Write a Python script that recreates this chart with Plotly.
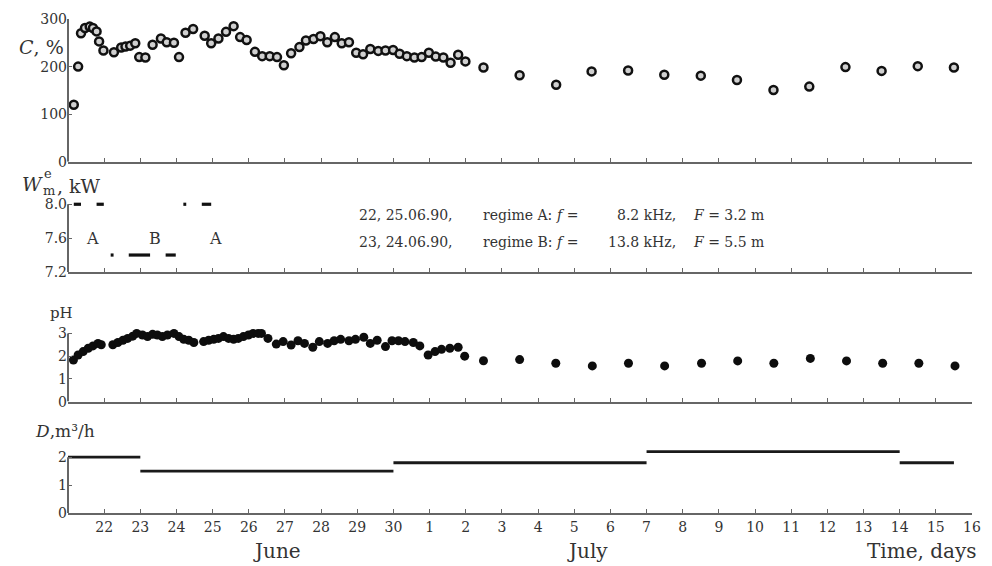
import plotly.graph_objects as go

# ---------------- data (x = days since 21 June 1990) ----------------
C_day = [0.16, 0.28, 0.36, 0.47, 0.60, 0.69, 0.79, 0.86, 0.98,
         1.27, 1.47, 1.59, 1.72, 1.86, 1.97,
         2.14, 2.34, 2.57, 2.73, 2.93,
         3.07, 3.25, 3.46, 3.78, 3.96,
         4.16, 4.37, 4.58, 4.76, 4.94,
         5.17, 5.37, 5.58, 5.78, 5.97,
         6.17, 6.40, 6.58, 6.79, 6.98,
         7.17, 7.38, 7.57, 7.77, 7.97,
         8.16, 8.36, 8.58, 8.78, 8.99,
         9.17, 9.37, 9.58, 9.78, 9.98,
         10.17, 10.38, 10.58, 10.79, 10.99,
         11.49, 12.49, 13.5, 14.48, 15.49, 16.49, 17.5, 18.5, 19.51,
         20.5, 21.5, 22.5, 23.5, 24.5]
C_val = [120, 200, 270, 281, 284, 281, 274, 253, 234,
         230, 240, 242, 244, 249, 220,
         219, 246, 259, 251, 250,
         220, 271, 279, 265, 249,
         259, 273, 285, 262, 256,
         231, 222, 222, 220, 203,
         228, 241, 255, 258, 264,
         251, 262, 249, 251, 229,
         226, 237, 233, 234, 235,
         227, 222, 219, 220, 229,
         221, 219, 208, 225, 211,
         198, 182, 162, 190, 192, 183, 181, 172, 151,
         158, 199, 191, 201, 198]

W_start = [0.16, 0.79, 3.19, 3.70, 1.18, 1.68, 2.70]
W_end   = [0.36, 0.99, 3.27, 3.96, 1.26, 2.27, 2.98]
W_val   = [8.0, 8.0, 8.0, 8.0, 7.4, 7.4, 7.4]

pH_day = [0.15, 0.28, 0.42, 0.56, 0.69, 0.83, 0.92,
          1.24, 1.38, 1.52, 1.65, 1.79, 1.90, 2.06, 2.20, 2.34, 2.47, 2.61,
          2.75, 2.93, 3.07, 3.20, 3.34, 3.48,
          3.75, 3.89, 4.03, 4.16, 4.30, 4.44, 4.58, 4.71, 4.85, 4.99, 5.12, 5.26,
          5.35, 5.53, 5.76, 5.95, 6.17, 6.36, 6.54, 6.77, 6.95,
          7.18, 7.36, 7.54, 7.77, 7.95, 8.18, 8.36, 8.55, 8.78, 8.96,
          9.14, 9.32, 9.55, 9.73, 9.96, 10.15, 10.33, 10.56, 10.79, 10.97,
          11.49, 12.49, 13.49, 14.5, 15.5, 16.5, 17.52, 18.52, 19.52, 20.53,
          21.53, 22.53, 23.53, 24.53]
pH_val = [1.83, 2.05, 2.2, 2.35, 2.45, 2.56, 2.5,
          2.5, 2.6, 2.7, 2.78, 2.88, 3.0, 2.93, 2.86, 2.96, 2.93, 2.86,
          2.93, 3.0, 2.86, 2.74, 2.7, 2.6,
          2.64, 2.7, 2.74, 2.78, 2.86, 2.78, 2.74, 2.78, 2.86, 2.93, 3.0, 3.0,
          3.0, 2.78, 2.53, 2.64, 2.49, 2.68, 2.56, 2.39, 2.64,
          2.56, 2.68, 2.74, 2.68, 2.74, 2.83, 2.56, 2.7, 2.42, 2.68,
          2.68, 2.64, 2.6, 2.45, 2.05, 2.2, 2.3, 2.35, 2.39, 2.0,
          1.8, 1.85, 1.69, 1.57, 1.69, 1.57, 1.69, 1.79, 1.69, 1.9,
          1.79, 1.69, 1.69, 1.57]

D_start = [0, 2, 9, 16, 23]
D_end   = [2, 9, 16, 23, 24.5]
D_val   = [2.0, 1.5, 1.8, 2.2, 1.8]

x_tick_pos = [1, 2, 3, 4, 5, 6, 7, 8, 9, 10, 11, 12, 13, 14, 15, 16, 17,
              18, 19, 20, 21, 22, 23, 24, 25]
x_tick_lab = ["22", "23", "24", "25", "26", "27", "28", "29", "30",
              "1", "2", "3", "4", "5", "6", "7", "8", "9", "10", "11",
              "12", "13", "14", "15", "16"]

C_ticks = [0, 100, 200, 300]
W_ticks = [7.2, 7.6, 8.0]
W_tick_lab = ["7.2", "7.6", "8.0"]
pH_ticks = [0, 1, 2, 3]
D_ticks = [0, 1, 2]

# ---------------- layout geometry ----------------
FW, FH = 992, 566
L, R, T, B = 68, 11, 15, 53
PW, PH = FW - L - R, FH - T - B
FONT = "DejaVu Serif"
AX = "#666"
TXT = "#333"


def dom(top_px, bot_px):
    return [(FH - B - bot_px) / PH, (FH - B - top_px) / PH]


def pxx(px):
    return (px - L) / PW


def pxy(py):
    return (FH - B - py) / PH


def segs(starts, ends, vals):
    xs, ys = [], []
    for a, b, v in zip(starts, ends, vals):
        xs += [a, b, None]
        ys += [v, v, None]
    return xs, ys


fig = go.Figure()

fig.add_trace(go.Scatter(
    x=C_day, y=C_val, mode="markers", xaxis="x", yaxis="y", cliponaxis=False,
    marker=dict(symbol="circle", size=8, color="#d0d0d0",
                line=dict(color="#111", width=2.5))))

wx, wy = segs(W_start, W_end, W_val)
fig.add_trace(go.Scatter(x=wx, y=wy, mode="lines", xaxis="x2", yaxis="y2",
                         line=dict(color="#111", width=3.2)))

fig.add_trace(go.Scatter(
    x=pH_day, y=pH_val, mode="markers", xaxis="x3", yaxis="y3", cliponaxis=False,
    marker=dict(symbol="circle", size=9, color="#0d0d0d",
                line=dict(width=0))))

dx, dy = segs(D_start, D_end, D_val)
fig.add_trace(go.Scatter(x=dx, y=dy, mode="lines", xaxis="x4", yaxis="y4",
                         line=dict(color="#1a1a1a", width=2.8)))

tickfont = dict(family=FONT, size=14, color=TXT)
panels = [  # (y-range, y-domain px, ticks, ticklabels, axis line top, bottom)
    ([0, 300], (15, 159), C_ticks, [str(v) for v in C_ticks], 300, 0),
    ([7.2, 8.05], (197.5, 270), W_ticks, W_tick_lab, 8.0, 7.2),
    ([0, 3.1], (329.7, 400.7), pH_ticks, [str(v) for v in pH_ticks], 3, 0),
    ([0, 2.3], (448.3, 513), D_ticks, [str(v) for v in D_ticks], 2, 0),
]

shapes = []
for i, (yr, dpx, tv, tt, ytop, ybot) in enumerate(panels):
    n = "" if i == 0 else str(i + 1)
    fig.layout["xaxis" + n] = dict(
        domain=[0, 1], anchor="y" + n, range=[0, 25],
        showline=True, linecolor=AX, linewidth=2,
        ticks="inside", ticklen=4, tickwidth=1.3, tickcolor=AX,
        tickvals=x_tick_pos, ticktext=x_tick_lab,
        showticklabels=(i == 3), tickfont=dict(family=FONT, size=14, color=TXT),
        showgrid=False, zeroline=False)
    fig.layout["yaxis" + n] = dict(
        domain=dom(*dpx), anchor="x" + n, range=yr,
        showline=False, ticks="inside", ticklen=4, tickwidth=1.3, tickcolor=AX,
        tickvals=tv, ticktext=tt, tickfont=tickfont,
        showgrid=False, zeroline=False)
    shapes.append(dict(type="line", xref="x" + n + " domain", yref="y" + n,
                       x0=0, x1=0, y0=ybot, y1=ytop,
                       line=dict(color=AX, width=2)))

ann = []


def A(text, x, y, size, xanchor="center", yanchor="middle", **kw):
    d = dict(text=text, x=x, y=y, xref=kw.pop("xref", "paper"),
             yref=kw.pop("yref", "paper"), showarrow=False,
             xanchor=xanchor, yanchor=yanchor,
             font=dict(family=FONT, size=size, color=kw.pop("color", TXT)))
    d.update(kw)
    ann.append(d)


# axis titles
A("<i>C</i>, %", pxx(66), pxy(43), 19, xanchor="right")
A("<i>W</i>", pxx(32), pxy(181), 19)
A("e", pxx(48), pxy(171), 13)
A("m", pxx(49), pxy(188), 13)
A(", kW", pxx(55), pxy(183), 19, xanchor="left")
A("pH", pxx(61), pxy(311), 15)
A("<i>D</i>,m³/h", pxx(33), pxy(430), 17, xanchor="left")
A("June", pxx(279), pxy(551), 20)
A("July", pxx(593), pxy(551), 20)
A("Time, days", pxx(988), pxy(551), 20, xanchor="right")

# regime labels in W panel
A("A", 0.68, 7.6, 16, xref="x2", yref="y2")
A("B", 2.41, 7.6, 16, xref="x2", yref="y2")
A("A", 4.08, 7.6, 16, xref="x2", yref="y2")

# legend text for regimes
for py, date, reg, fval, Fval in [(213, "22, 25.06.90,", "regime A:", "8.2 kHz,", "3.2 m"),
                                  (240, "23, 24.06.90,", "regime B:", "13.8 kHz,", "5.5 m")]:
    A(date, pxx(360), pxy(py), 14, xanchor="left")
    A(reg, pxx(485), pxy(py), 14, xanchor="left")
    A("<i>f</i> =", pxx(559), pxy(py), 14, xanchor="left")
    A(fval, pxx(684), pxy(py), 14, xanchor="right")
    A("<i>F</i> = " + Fval, pxx(697), pxy(py), 14, xanchor="left")

fig.update_layout(
    width=FW, height=FH, margin=dict(l=L, r=R, t=T, b=B),
    paper_bgcolor="white", plot_bgcolor="white", showlegend=False,
    shapes=shapes, annotations=ann,
    font=dict(family=FONT, color=TXT))

fig.write_html("out.html", config={"displayModeBar": False},
               post_script="document.body.style.margin='0';"
                           "document.body.style.overflow='hidden';")
